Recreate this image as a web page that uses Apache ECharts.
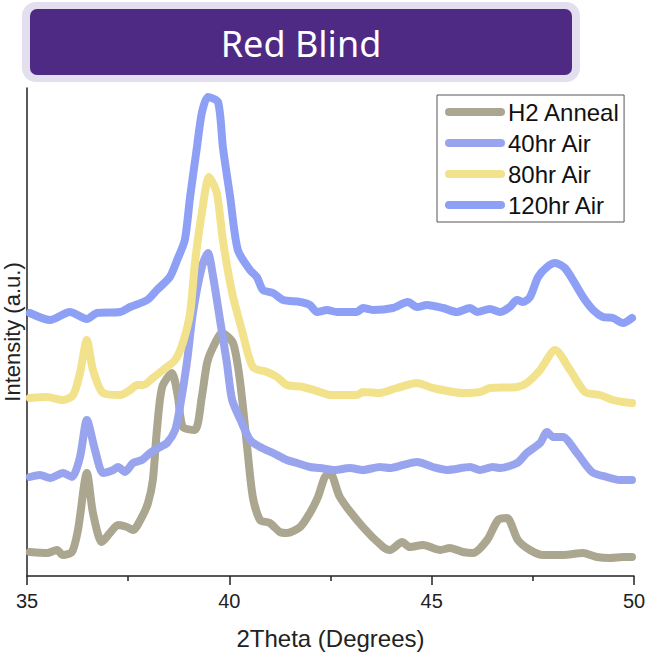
<!DOCTYPE html>
<html>
<head>
<meta charset="utf-8">
<script src="https://cdn.jsdelivr.net/npm/echarts@6/dist/echarts.min.js"></script>
<style>
html,body{margin:0;padding:0;background:#fff;}
#chart{width:659px;height:657px;}
</style>
</head>
<body>
<div id="chart"></div>
<script>
// ---- data (2Theta in degrees, intensity in arbitrary units) ----
var seriesNames = ['H2 Anneal', '40hr Air', '80hr Air', '120hr Air'];
var xTicks = [35, 40, 45, 50];
var titleText = 'Red Blind';

var h2Anneal = [
  [35.07,24],[35.49,23],[35.74,26],[35.89,21],[36.11,24],[36.26,46],[36.48,103],[36.63,63],
  [36.85,34],[37.05,43],[37.25,51],[37.47,49],[37.62,46],[37.84,59],[37.99,73],[38.11,96],
  [38.21,146],[38.34,189],[38.58,203],[38.73,179],[38.85,149],[39.15,146],[39.32,179],[39.45,213],
  [39.60,229],[39.82,243],[40.09,233],[40.26,196],[40.44,129],[40.58,79],[40.76,56],[41.00,53],
  [41.25,44],[41.42,43],[41.75,49],[41.99,63],[42.19,79],[42.36,99],[42.49,103],[42.73,79],
  [43.30,49],[43.80,29],[43.97,26],[44.27,34],[44.46,29],[44.79,31],[45.21,26],[45.45,28],
  [45.77,24],[46.02,23],[46.37,36],[46.64,56],[46.86,58],[47.13,36],[47.43,26],[47.75,21],
  [48.24,21],[48.74,23],[49.08,19],[49.41,18],[49.73,19],[49.95,19]
];

var air40 = [
  [35.07,99],[35.32,101],[35.57,98],[35.89,103],[36.11,99],[36.31,119],[36.48,156],[36.68,126],
  [36.88,103],[37.13,106],[37.25,109],[37.42,104],[37.62,113],[37.84,116],[38.04,123],[38.29,129],
  [38.46,133],[38.66,146],[38.78,169],[38.95,213],[39.10,263],[39.32,309],[39.47,323],[39.60,299],
  [39.77,256],[39.94,213],[40.07,176],[40.31,153],[40.51,136],[40.76,129],[41.08,123],[41.42,116],
  [41.67,113],[41.99,109],[42.24,108],[42.61,106],[42.98,108],[43.30,106],[43.72,109],[43.97,108],
  [44.29,111],[44.64,114],[45.03,109],[45.38,106],[45.95,109],[46.19,106],[46.51,109],[46.69,108],
  [47.11,113],[47.35,123],[47.68,133],[47.85,144],[48.00,139],[48.24,139],[48.59,123],[48.96,104],
  [49.33,99],[49.65,96],[49.95,96]
];

var air80 = [
  [35.07,178],[35.49,179],[35.89,176],[36.14,181],[36.31,203],[36.48,236],[36.63,206],[36.88,183],
  [37.30,181],[37.55,186],[37.72,191],[37.87,191],[38.11,198],[38.36,206],[38.66,216],[38.85,233],
  [39.03,263],[39.15,313],[39.32,363],[39.50,399],[39.69,383],[39.84,336],[40.07,283],[40.31,246],
  [40.58,209],[40.93,204],[41.18,199],[41.42,191],[41.82,189],[42.24,184],[42.50,181],[43.15,181],
  [43.30,184],[43.72,183],[44.14,188],[44.64,193],[45.03,188],[45.77,183],[46.19,184],[46.44,188],
  [47.11,189],[47.35,193],[47.68,206],[48.05,226],[48.42,206],[48.79,184],[49.16,181],[49.48,176],
  [49.73,174],[49.95,173]
];

var air120 = [
  [35.07,263],[35.57,256],[36.06,264],[36.48,257],[36.73,263],[37.30,264],[37.55,269],[37.97,276],
  [38.21,286],[38.53,299],[38.71,316],[38.90,336],[39.03,379],[39.20,429],[39.32,463],[39.47,479],
  [39.72,474],[39.84,429],[40.02,379],[40.21,326],[40.51,306],[40.68,299],[40.83,286],[41.08,283],
  [41.33,276],[41.75,274],[41.99,271],[42.17,264],[42.41,266],[42.66,264],[43.15,264],[43.30,268],
  [43.55,266],[44.04,268],[44.41,274],[44.64,269],[44.88,271],[45.28,268],[45.62,264],[45.95,268],
  [46.12,264],[46.44,267],[46.69,264],[46.93,269],[47.11,276],[47.26,274],[47.43,279],[47.63,299],
  [47.85,309],[48.05,313],[48.29,308],[48.49,296],[48.74,279],[48.99,266],[49.23,259],[49.48,258],
  [49.73,253],[49.95,258]
];

var seriesData = [h2Anneal, air40, air80, air120];
var seriesColors = ['#ABA68F', '#98A5EE', '#F2E28C', '#8DA0F6'];

// ---- chart ----
var chart = echarts.init(document.getElementById('chart'), null, {renderer: 'svg'});
var axisFont = 'Liberation Sans, Arial, sans-serif';

var series = seriesNames.map(function (name, i) {
  return {
    name: name,
    type: 'line',
    data: seriesData[i],
    showSymbol: false,
    symbol: 'none',
    smooth: 0.25,
    color: seriesColors[i],
    lineStyle: {width: 8, color: seriesColors[i], cap: 'round', join: 'round'},
    emphasis: {disabled: true},
    z: 2 + i
  };
});

chart.setOption({
  animation: false,
  backgroundColor: '#ffffff',
  grid: {left: 27, right: 25, top: 88, bottom: 81, containLabel: false, outerBoundsMode: 'none'},
  xAxis: {
    type: 'value',
    min: xTicks[0],
    max: xTicks[xTicks.length - 1],
    interval: 5,
    name: '2Theta (Degrees)',
    nameLocation: 'middle',
    nameGap: 50,
    nameTextStyle: {fontSize: 24, color: '#222', fontFamily: axisFont},
    axisLine: {show: true, onZero: false, lineStyle: {color: '#222', width: 1.5}},
    axisTick: {show: true, inside: false, length: 9, lineStyle: {color: '#222', width: 1.5}},
    minorTick: {show: true, splitNumber: 2, length: 5, lineStyle: {color: '#222', width: 1.5}},
    axisLabel: {show: true, fontSize: 20, color: '#222', fontFamily: axisFont, margin: 15},
    splitLine: {show: false},
    minorSplitLine: {show: false}
  },
  yAxis: {
    type: 'value',
    min: 0,
    max: 488,
    name: 'Intensity (a.u.)',
    nameLocation: 'middle',
    nameGap: 4,
    nameTextStyle: {fontSize: 22, color: '#222', fontFamily: axisFont},
    axisLine: {show: true, onZero: false, lineStyle: {color: '#222', width: 1.5}},
    axisTick: {show: false},
    axisLabel: {show: false},
    splitLine: {show: false}
  },
  legend: {
    show: true,
    orient: 'vertical',
    left: 437,
    top: 95,
    data: seriesNames,
    icon: 'path://M4,0 L56,0 A4,4 0 0 1 56,8 L4,8 A4,4 0 0 1 4,0 Z',
    itemWidth: 60,
    itemHeight: 8,
    itemGap: 7,
    padding: [5, 4, 5, 8],
    borderColor: '#555',
    borderWidth: 1,
    backgroundColor: '#fff',
    selectedMode: false,
    textStyle: {fontSize: 24, color: '#111', fontFamily: axisFont, padding: [0, 0, 0, -2]}
  },
  graphic: [
    {type: 'rect', z: 100, shape: {x: 22, y: 2, width: 558, height: 80, r: 14}, style: {fill: '#E4DFEF'}},
    {type: 'rect', z: 101, shape: {x: 30, y: 9, width: 542, height: 66, r: 7}, style: {fill: '#4E2A84'}},
    {type: 'text', z: 102, x: 301, y: 43, style: {text: titleText, fill: '#ffffff', font: '36px "Noto Sans", "Open Sans", sans-serif', textAlign: 'center', textVerticalAlign: 'middle'}}
  ],
  series: series
});
</script>
</body>
</html>
